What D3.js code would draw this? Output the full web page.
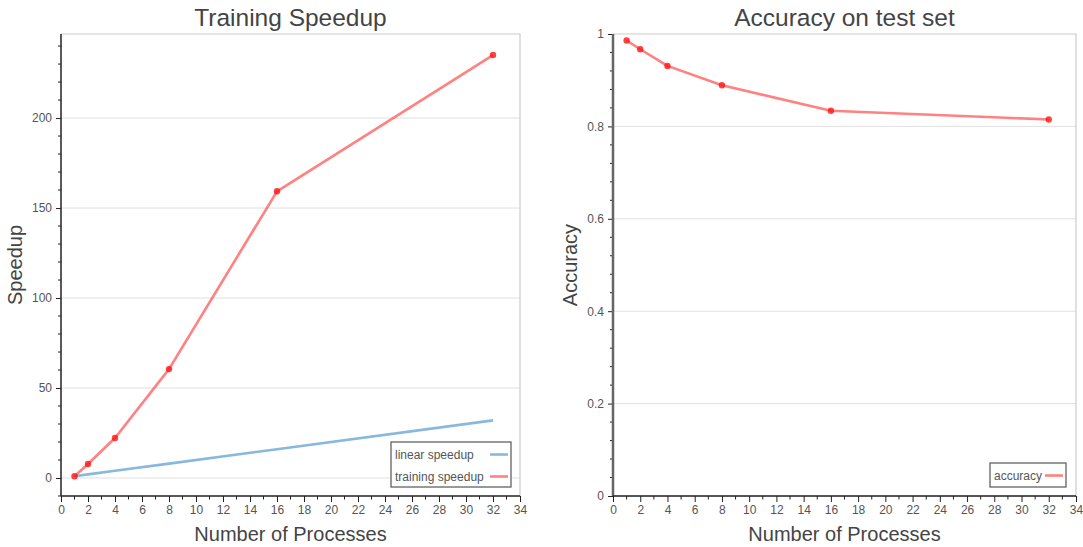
<!DOCTYPE html>
<html>
<head>
<meta charset="utf-8">
<script src="https://cdn.jsdelivr.net/npm/d3@7"></script>
<style>
  html, body { margin: 0; padding: 0; background: #fff; }
  svg { display: block; font-family: "Liberation Sans", Arial, sans-serif; }
</style>
</head>
<body>
<svg id="chart" width="1083" height="547"></svg>
<script>
// Number of worker processes
const processes = [1, 2, 4, 8, 16, 32];
// Ideal linear speedup
const linearSpeedup = [1, 2, 4, 8, 16, 32];
// Measured training speedup
const trainingSpeedup = [1, 7.8, 22.2, 60.5, 159.3, 235];
// Accuracy on the test set
const accuracy = [0.986, 0.967, 0.931, 0.889, 0.834, 0.815];

const xTicks = [0, 2, 4, 6, 8, 10, 12, 14, 16, 18, 20, 22, 24, 26, 28, 30, 32, 34];
const speedupTicks = [0, 50, 100, 150, 200];
const accuracyTicks = [0, 0.2, 0.4, 0.6, 0.8, 1];

const RED = "rgba(255, 70, 70, 0.68)";
const BLUE = "rgba(80, 150, 205, 0.68)";
const TEXT = "#444";
const TICK_TEXT = "#555";

const svg = d3.select("#chart");

function panel(opts) {
  const g = svg.append("g");
  const x = d3.scaleLinear().domain([0, 34]).range([opts.left, opts.right]);
  const y = d3.scaleLinear().domain(opts.yDomain).range([496, 34]);

  // horizontal gridlines
  g.append("g").selectAll("line").data(opts.yTicks.filter(v => y(v) > 35))
    .join("line")
    .attr("x1", opts.left).attr("x2", opts.right)
    .attr("y1", d => y(d)).attr("y2", d => y(d))
    .attr("stroke", "#e0e0e0").attr("stroke-width", 1);

  // frame (top and right)
  g.append("path")
    .attr("d", `M${opts.left},34H${opts.right}V496`)
    .attr("fill", "none").attr("stroke", "#cccccc").attr("stroke-width", 1.2);

  // minor y ticks
  const yMinor = d3.range(opts.yDomain[0], opts.yDomain[1] + 1e-9, opts.yMinorStep)
    .map(v => Math.round(v / opts.yMinorStep) * opts.yMinorStep)
    .filter(v => !opts.yTicks.some(t => Math.abs(t - v) < 1e-9) && y(v) >= 34 && y(v) <= 496);
  g.append("g").selectAll("line").data(yMinor).join("line")
    .attr("x1", opts.left - 3).attr("x2", opts.left)
    .attr("y1", d => y(d)).attr("y2", d => y(d))
    .attr("stroke", "#222").attr("stroke-width", 1);

  // y axis
  const yAxis = g.append("g")
    .attr("transform", `translate(${opts.left},0)`)
    .call(d3.axisLeft(y).tickValues(opts.yTicks).tickSize(5).tickPadding(4)
      .tickFormat(opts.yFormat));
  yAxis.select(".domain").remove();
  yAxis.selectAll(".tick line").attr("stroke", "#222");
  yAxis.selectAll(".tick text").attr("fill", TICK_TEXT).style("font-size", "12px")
    .style("font-family", "Liberation Sans, Arial, sans-serif");
  g.append("line")
    .attr("x1", opts.left).attr("x2", opts.left).attr("y1", 34).attr("y2", 496)
    .attr("stroke", opts.yAxisColor).attr("stroke-width", opts.yAxisWidth);

  // minor x ticks
  g.append("g").selectAll("line").data(d3.range(1, 34, 2)).join("line")
    .attr("x1", d => x(d)).attr("x2", d => x(d))
    .attr("y1", 496).attr("y2", 499.5)
    .attr("stroke", "#222").attr("stroke-width", 1);

  // x axis
  const xAxis = g.append("g")
    .attr("transform", "translate(0,496)")
    .call(d3.axisBottom(x).tickValues(xTicks).tickSize(6).tickPadding(3));
  xAxis.select(".domain").remove();
  xAxis.selectAll(".tick line").attr("stroke", "#222");
  xAxis.selectAll(".tick text").attr("fill", TICK_TEXT).style("font-size", "12px")
    .style("font-family", "Liberation Sans, Arial, sans-serif");
  g.append("line")
    .attr("x1", opts.left).attr("x2", opts.right).attr("y1", 496).attr("y2", 496)
    .attr("stroke", "#222").attr("stroke-width", 1.5);

  // title and axis labels
  const cx = (opts.left + opts.right) / 2;
  g.append("text").attr("x", cx).attr("y", 26).attr("text-anchor", "middle")
    .attr("fill", TEXT).style("font-size", "24.5px").text(opts.title);
  g.append("text").attr("x", cx).attr("y", 541).attr("text-anchor", "middle")
    .attr("fill", TEXT).style("font-size", "20px").text("Number of Processes");
  g.append("text")
    .attr("transform", `translate(${opts.left - opts.yLabelOffset},265) rotate(-90)`)
    .attr("text-anchor", "middle")
    .attr("fill", TEXT).style("font-size", "20px").text(opts.yLabel);

  // series
  const line = d3.line().x(d => x(d[0])).y(d => y(d[1]));
  opts.series.forEach(s => {
    const pts = processes.map((p, i) => [p, s.values[i]]);
    g.append("path").datum(pts)
      .attr("d", line).attr("fill", "none")
      .attr("stroke", s.color).attr("stroke-width", 2.6)
      .attr("stroke-linejoin", "round");
    if (s.markers) {
      g.append("g").selectAll("circle").data(pts).join("circle")
        .attr("cx", d => x(d[0])).attr("cy", d => y(d[1])).attr("r", 3.2)
        .attr("fill", "rgba(255, 20, 20, 0.8)");
    }
  });

  // legend
  const L = opts.legend;
  g.append("rect").attr("x", L.x).attr("y", L.y).attr("width", L.w).attr("height", L.h)
    .attr("fill", "#fff").attr("stroke", "#555").attr("stroke-width", 1.2);
  opts.series.forEach((s, i) => {
    const ty = L.y + 16.5 + i * 22;
    g.append("text").attr("x", L.x + 4).attr("y", ty).attr("fill", TICK_TEXT)
      .style("font-size", "12px").text(s.name);
    g.append("line").attr("x1", L.x + L.w - 21).attr("x2", L.x + L.w - 3)
      .attr("y1", ty - 4).attr("y2", ty - 4)
      .attr("stroke", s.color).attr("stroke-width", 2.6);
  });
}

panel({
  left: 61, right: 520,
  yDomain: [-10, 246.7], yTicks: speedupTicks, yMinorStep: 10,
  yFormat: d3.format("d"),
  yAxisColor: "#222", yAxisWidth: 1.5,
  title: "Training Speedup", yLabel: "Speedup", yLabelOffset: 39,
  series: [
    { name: "linear speedup", values: linearSpeedup, color: BLUE, markers: false },
    { name: "training speedup", values: trainingSpeedup, color: RED, markers: true }
  ],
  legend: { x: 391, y: 442, w: 120, h: 45 }
});

panel({
  left: 613, right: 1076,
  yDomain: [0, 1], yTicks: accuracyTicks, yMinorStep: 0.04,
  yFormat: d => d === 0 ? "0" : d === 1 ? "1" : d3.format(".1f")(d),
  yAxisColor: "#666", yAxisWidth: 2.5,
  title: "Accuracy on test set", yLabel: "Accuracy", yLabelOffset: 36,
  series: [
    { name: "accuracy", values: accuracy, color: RED, markers: true }
  ],
  legend: { x: 990, y: 463, w: 76, h: 24 }
});
</script>
</body>
</html>
